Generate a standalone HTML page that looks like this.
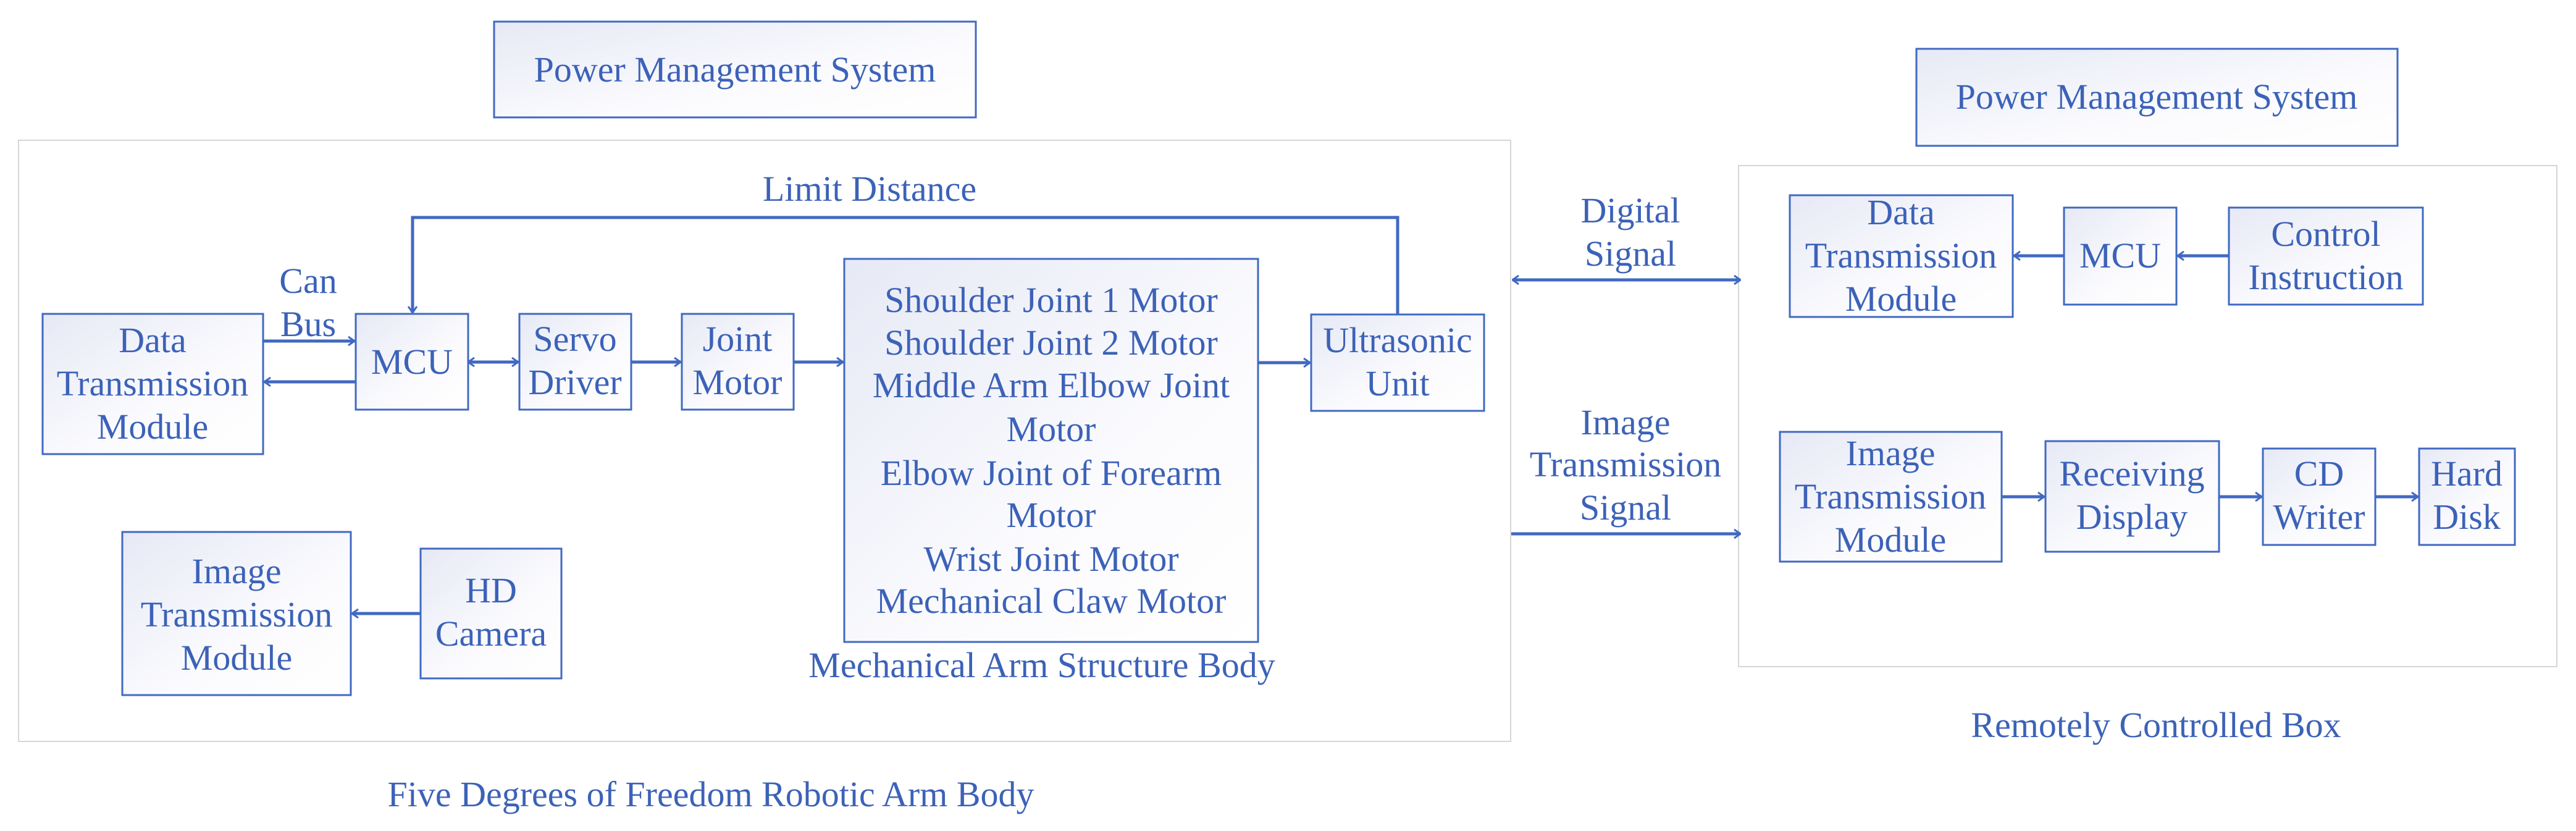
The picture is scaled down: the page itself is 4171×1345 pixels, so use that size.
<!DOCTYPE html>
<html><head><meta charset="utf-8"><style>
html,body{margin:0;padding:0;background:#fff;}
svg{display:block}
text{font-family:"Liberation Serif",serif;font-size:58px;fill:#3c62b8;text-anchor:middle;}
.b{stroke:#4169c2;stroke-width:3;fill:url(#g);}
.l{stroke:#4169c2;stroke-width:5;fill:none;}
</style></head><body>
<svg width="4171" height="1345" viewBox="0 0 4171 1345" xmlns="http://www.w3.org/2000/svg">
<defs>
<linearGradient id="g" x1="0" y1="0" x2="1" y2="1"><stop offset="0" stop-color="#e6e9f5"/><stop offset="0.6" stop-color="#fbfbfe"/><stop offset="1" stop-color="#ffffff"/></linearGradient>
<marker id="a" markerWidth="12" markerHeight="16" refX="11" refY="8" orient="auto" markerUnits="userSpaceOnUse"><path d="M1,1 L11,8 L1,15" fill="none" stroke="#4169c2" stroke-width="3"/></marker>
<marker id="s" markerWidth="12" markerHeight="16" refX="1" refY="8" orient="auto" markerUnits="userSpaceOnUse"><path d="M11,1 L1,8 L11,15" fill="none" stroke="#4169c2" stroke-width="3"/></marker>
</defs>
<!-- outer boxes -->
<rect x="30" y="227" width="2416" height="973" fill="none" stroke="#d6d6d6" stroke-width="2"/>
<rect x="2815" y="268" width="1325" height="811" fill="none" stroke="#d6d6d6" stroke-width="2"/>
<!-- power boxes -->
<rect class="b" x="800" y="35" width="780" height="155"/>
<text x="1190" y="132">Power Management System</text>
<rect class="b" x="3103" y="79" width="779" height="157"/>
<text x="3492" y="176">Power Management System</text>
<!-- left boxes -->
<rect class="b" x="69" y="508" width="357" height="227"/>
<text x="247" y="570">Data</text><text x="247" y="640">Transmission</text><text x="247" y="710">Module</text>
<rect class="b" x="576" y="508" width="182" height="155"/>
<text x="667" y="605">MCU</text>
<rect class="b" x="841" y="508" width="181" height="155"/>
<text x="931" y="568">Servo</text><text x="931" y="638">Driver</text>
<rect class="b" x="1104" y="508" width="181" height="155"/>
<text x="1194" y="568">Joint</text><text x="1194" y="638">Motor</text>
<rect class="b" x="1367" y="419" width="670" height="620"/>
<text x="1702" y="505">Shoulder Joint 1 Motor</text>
<text x="1702" y="574">Shoulder Joint 2 Motor</text>
<text x="1702" y="643">Middle Arm Elbow Joint</text>
<text x="1702" y="714">Motor</text>
<text x="1702" y="785">Elbow Joint of Forearm</text>
<text x="1702" y="853">Motor</text>
<text x="1702" y="924">Wrist Joint Motor</text>
<text x="1702" y="992">Mechanical Claw Motor</text>
<rect class="b" x="2123" y="509" width="280" height="156"/>
<text x="2263" y="570">Ultrasonic</text><text x="2263" y="640">Unit</text>
<rect class="b" x="198" y="861" width="370" height="264"/>
<text x="383" y="944">Image</text><text x="383" y="1014">Transmission</text><text x="383" y="1084">Module</text>
<rect class="b" x="681" y="888" width="228" height="210"/>
<text x="795" y="975">HD</text><text x="795" y="1045">Camera</text>
<!-- left labels -->
<text x="1408" y="325">Limit Distance</text>
<text x="499" y="474">Can</text><text x="499" y="544">Bus</text>
<text x="1687" y="1096">Mechanical Arm Structure Body</text>
<text x="1151" y="1305">Five Degrees of Freedom Robotic Arm Body</text>
<!-- left connectors -->
<path class="l" d="M2263,509 V352 H668 V506" marker-end="url(#a)"/>
<line class="l" x1="426" y1="552" x2="574" y2="552" marker-end="url(#a)"/>
<line class="l" x1="576" y1="618" x2="428" y2="618" marker-end="url(#a)"/>
<line class="l" x1="758" y1="586" x2="839" y2="586" marker-start="url(#s)" marker-end="url(#a)"/>
<line class="l" x1="1022" y1="586" x2="1102" y2="586" marker-end="url(#a)"/>
<line class="l" x1="1285" y1="586" x2="1365" y2="586" marker-end="url(#a)"/>
<line class="l" x1="2037" y1="587" x2="2121" y2="587" marker-end="url(#a)"/>
<line class="l" x1="681" y1="993" x2="570" y2="993" marker-end="url(#a)"/>
<!-- middle -->
<text x="2640" y="360">Digital</text><text x="2640" y="430">Signal</text>
<line class="l" x1="2449" y1="453" x2="2818" y2="453" marker-start="url(#s)" marker-end="url(#a)"/>
<text x="2632" y="703">Image</text><text x="2632" y="771">Transmission</text><text x="2632" y="841">Signal</text>
<line class="l" x1="2447" y1="864" x2="2818" y2="864" marker-end="url(#a)"/>
<!-- right boxes -->
<rect class="b" x="2898" y="316" width="361" height="197"/>
<text x="3078" y="363">Data</text><text x="3078" y="433">Transmission</text><text x="3078" y="503">Module</text>
<rect class="b" x="3342" y="336" width="182" height="157"/>
<text x="3433" y="433">MCU</text>
<rect class="b" x="3609" y="336" width="314" height="157"/>
<text x="3766" y="398">Control</text><text x="3766" y="468">Instruction</text>
<line class="l" x1="3342" y1="414" x2="3261" y2="414" marker-end="url(#a)"/>
<line class="l" x1="3609" y1="414" x2="3526" y2="414" marker-end="url(#a)"/>
<rect class="b" x="2882" y="699" width="359" height="210"/>
<text x="3061" y="753">Image</text><text x="3061" y="823">Transmission</text><text x="3061" y="893">Module</text>
<rect class="b" x="3312" y="714" width="281" height="179"/>
<text x="3452" y="786">Receiving</text><text x="3452" y="856">Display</text>
<rect class="b" x="3664" y="726" width="182" height="156"/>
<text x="3755" y="786">CD</text><text x="3755" y="856">Writer</text>
<rect class="b" x="3917" y="726" width="155" height="156"/>
<text x="3994" y="786">Hard</text><text x="3994" y="856">Disk</text>
<line class="l" x1="3241" y1="804" x2="3310" y2="804" marker-end="url(#a)"/>
<line class="l" x1="3593" y1="804" x2="3662" y2="804" marker-end="url(#a)"/>
<line class="l" x1="3846" y1="804" x2="3915" y2="804" marker-end="url(#a)"/>
<text x="3491" y="1193">Remotely Controlled Box</text>
</svg>
</body></html>
